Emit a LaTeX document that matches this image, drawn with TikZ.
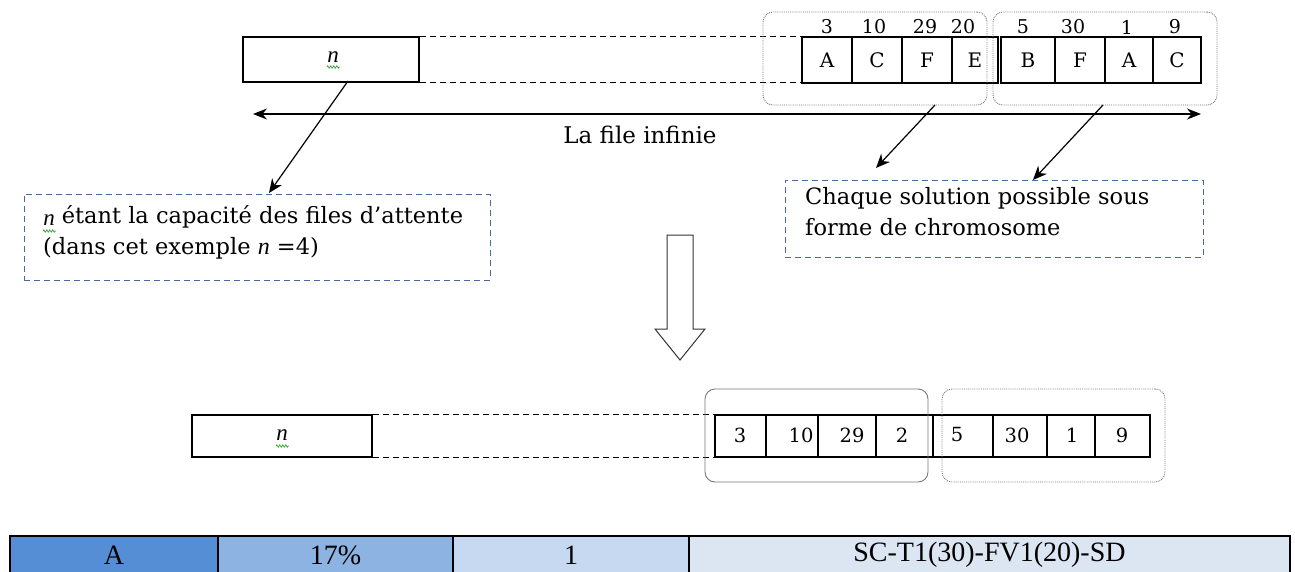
\documentclass[tikz,border=0pt]{standalone}
\usepackage{fontspec}
\setmainfont{DejaVu Serif}
\newfontfamily\tnr{Liberation Serif}
\usetikzlibrary{arrows.meta,decorations.pathmorphing}

\definecolor{notecol}{HTML}{4A6A9C}
\definecolor{grpcol}{HTML}{777777}
\definecolor{squigcol}{HTML}{3AA63A}
\definecolor{tabA}{HTML}{558ED5}
\definecolor{tabB}{HTML}{8DB3E2}
\definecolor{tabC}{HTML}{C6D9F1}
\definecolor{tabD}{HTML}{DCE6F2}

\tikzset{
  capbox/.style={draw, line width=1.1pt, inner sep=0pt, minimum height=45pt},
  gene/.style={draw, line width=1.1pt, inner sep=0pt, minimum height=46pt,
    font=\fontsize{20}{20}\selectfont},
  val/.style={draw, line width=1.1pt, inner sep=0pt, minimum height=42pt},
  valtxt/.style={inner sep=0pt, font=\fontsize{19.5}{19.5}\selectfont},
  toplabel/.style={inner sep=0pt, font=\fontsize{19}{19}\selectfont},
  grp/.style={draw=grpcol, line width=0.9pt, rounded corners=10pt, densely dotted},
  grpsolid/.style={draw=grpcol, line width=0.9pt, rounded corners=10pt},
  link/.style={dashed, line width=0.9pt, dash pattern=on 6pt off 4pt},
  conn/.style={line width=1.2pt, -{Stealth[length=14pt,width=12pt]}},
  note/.style={draw=notecol, line width=1pt, dash pattern=on 6pt off 4pt},
  notetxt/.style={inner sep=0pt, anchor=north west, align=left,
    font=\fontsize{22.5}{31}\selectfont},
  squig/.style={draw=squigcol, line width=0.7pt, decorate,
    decoration={zigzag, segment length=3pt, amplitude=1.2pt}},
  nital/.style={inner sep=0pt, font=\tnr\itshape\fontsize{23}{23}\selectfont},
  tcell/.style={draw, line width=1.2pt, inner sep=0pt, minimum height=38pt,
    font=\tnr\fontsize{28}{28}\selectfont},
}

\begin{document}
\begin{tikzpicture}[x=1pt, y=-1pt]
\useasboundingbox (0,0) rectangle (1295,571);

% ---------- upper queue: capacity block and chromosome genes ----------
\node[capbox, minimum width=176pt] (ntop) at (331,59.5) {};
\node[nital] (ntoplbl) at (333,57) {n};
\draw[squig] (327,67) -- (340,67);

\node[gene, minimum width=50pt] (g1) at (827,60) {A};
\node[gene, minimum width=50pt] (g2) at (877,60) {C};
\node[gene, minimum width=50pt] (g3) at (927,60) {F};
\node[gene, minimum width=46pt] (g4) at (975,60) {E};
\node[gene, minimum width=54pt] (g5) at (1028,60) {B};
\node[gene, minimum width=50pt] (g6) at (1080,60) {F};
\node[gene, minimum width=48pt] (g7) at (1129,60) {A};
\node[gene, minimum width=48pt] (g8) at (1177,60) {C};

\node[toplabel] (t1) at (827,27) {3};
\node[toplabel] (t2) at (874,27) {10};
\node[toplabel] (t3) at (925,27) {29};
\node[toplabel] (t4) at (963,27) {20};
\node[toplabel] (t5) at (1023,27) {5};
\node[toplabel] (t6) at (1073,27) {30};
\node[toplabel] (t7) at (1127,27) {1};
\node[toplabel] (t8) at (1175,27) {9};

\draw[link] (ntop.north east) -- (g1.north west);
\draw[link] (ntop.south east) -- (g1.south west |- ntop.south east);

\node[grp, minimum width=224pt, minimum height=93pt] (grp1) at (875,58.5) {};
\node[grp, minimum width=224pt, minimum height=93pt] (grp2) at (1105,58.5) {};

% ---------- infinite queue ----------
\coordinate (qleft) at (253,114);
\coordinate (qright) at (1201,114);
\draw[line width=1.1pt, {Stealth[length=14pt,width=11pt]}-{Stealth[length=14pt,width=11pt]}] (qleft) -- (qright);
\node[inner sep=0pt, font=\fontsize{23}{23}\selectfont] (qlbl) at (640,135) {La file infinie};

% ---------- notes ----------
\node[note, minimum width=466pt, minimum height=86pt] (noteL) at (257,237) {};
\node[notetxt] (noteLtxt) at (43,205) {\hphantom{\tnr\itshape\fontsize{23}{23}\selectfont n} étant la capacité des files  d’attente\\(dans cet exemple {\tnr\itshape\fontsize{24}{24}\selectfont n} =4)};
\node[nital] (noteLn) at (49,220) {n};
\draw[squig] (43,231) -- (56,231);

\node[note, minimum width=418pt, minimum height=77pt] (noteR) at (994,218.5) {};
\node[notetxt] (noteRtxt) at (805,187) {Chaque solution possible  sous\\forme de chromosome};

\coordinate (aL) at (348,81);
\coordinate (aR1) at (935,105);
\coordinate (aR2) at (1103,105);
\coordinate (tipL) at (269,193);
\coordinate (tipR1) at (876,168);
\coordinate (tipR2) at (1033,180);
\draw[conn] (aL) -- (tipL);
\draw[conn] (aR1) -- (tipR1);
\draw[conn] (aR2) -- (tipR2);

% ---------- hollow transition arrow ----------
\draw[line width=1pt, draw=black!80, fill=white]
  (667,235) -- (693,235) -- (693,329) -- (705,329) -- (680,360)
  -- (655,329) -- (667,329) -- cycle;

% ---------- lower queue: encoded values ----------
\node[capbox, minimum width=180pt, minimum height=42pt] (nbot) at (282,436) {};
\node[nital] (nbotlbl) at (282,435) {n};
\draw[squig] (276,446) -- (289,446);

\node[val, minimum width=51pt] (v1) at (740.5,436) {};
\node[val, minimum width=52pt] (v2) at (792,436) {};
\node[val, minimum width=58pt] (v3) at (847,436) {};
\node[val, minimum width=57pt] (v4) at (904.5,436) {};
\node[val, minimum width=60pt] (v5) at (963,436) {};
\node[val, minimum width=54pt] (v6) at (1020,436) {};
\node[val, minimum width=48pt] (v7) at (1071,436) {};
\node[val, minimum width=55pt] (v8) at (1122.5,436) {};

\node[valtxt] (w1) at (740,435) {3};
\node[valtxt] (w2) at (801,435) {10};
\node[valtxt] (w3) at (852,435) {29};
\node[valtxt] (w4) at (902,435) {2};
\node[valtxt] (w5) at (957,435) {5};
\node[valtxt] (w6) at (1017,435) {30};
\node[valtxt] (w7) at (1072,435) {1};
\node[valtxt] (w8) at (1122,435) {9};

\draw[link] (nbot.north east) -- (v1.north west);
\draw[link] (nbot.south east) -- (v1.south west);

\node[grpsolid, minimum width=223pt, minimum height=93pt] (grp3) at (816.5,435.5) {};
\node[grp, minimum width=223pt, minimum height=93pt] (grp4) at (1053.5,435.5) {};

% ---------- table row ----------
\node[tcell, fill=tabA, minimum width=208pt] (c1) at (114,555) {A};
\node[tcell, fill=tabB, minimum width=235pt] (c2) at (335.5,555) {17\%};
\node[tcell, fill=tabC, minimum width=236pt] (c3) at (571,555) {1};
\node[tcell, fill=tabD, minimum width=601pt] (c4) at (989.5,555) {SC-T1(30)-FV1(20)-SD};
\end{tikzpicture}
\end{document}
